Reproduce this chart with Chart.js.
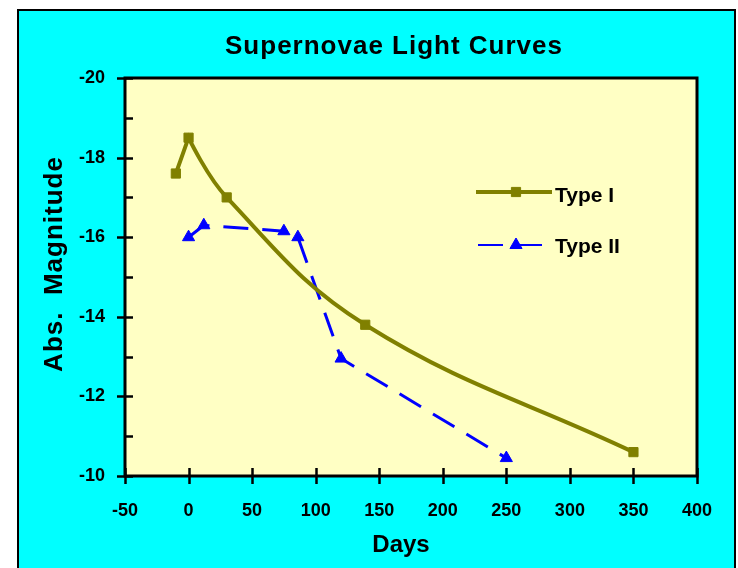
<!DOCTYPE html>
<html>
<head>
<meta charset="utf-8">
<script src="https://cdn.jsdelivr.net/npm/chart.js@4.4.1/dist/chart.umd.min.js"></script>
<style>
  html, body { margin: 0; padding: 0; background: #ffffff; }
  #wrap { width: 738px; height: 568px; }
</style>
</head>
<body>
<div id="wrap"><canvas id="chart" width="738" height="568"></canvas></div>
<script>
// Data
const typeIDays = [-10, 0, 30, 139, 350];
const typeIMag = [-17.6, -18.5, -17.0, -13.8, -10.6];
const typeIIDays = [0, 12, 75, 86, 120, 250];
const typeIIMag = [-16.0, -16.3, -16.15, -16.0, -12.95, -10.45];
const xTicks = [-50, 0, 50, 100, 150, 200, 250, 300, 350, 400];
const yTicks = [-20, -18, -16, -14, -12, -10];

const seriesNames = ['Type I', 'Type II'];
const chartTitle = 'Supernovae Light Curves';
const xTitle = 'Days';
const yTitle = 'Abs.  Magnitude';

const OLIVE = '#808000';
const BLUE = '#0000ff';

function toPoints(xs, ys) {
    return xs.map((x, i) => ({ x: x, y: ys[i] }));
}

// The smoothed Type I curve has a sharp corner at its peak
const peakIndex = typeIMag.indexOf(Math.min(...typeIMag));
const cuspPlugin = {
    id: 'cusp',
    beforeDatasetDraw(chart, args) {
        if (args.index !== 0) return;
        const line = args.meta.dataset;
        line.updateControlPoints(chart.chartArea);
        const pt = args.meta.data[peakIndex];
        pt.cp1x = pt.x; pt.cp1y = pt.y;
        pt.cp2x = pt.x; pt.cp2y = pt.y;
    }
};

// Background, frame, title, axis titles, tick marks and legend
const decorPlugin = {
    id: 'decor',
    beforeDraw(chart) {
        const ctx = chart.ctx;
        const a = chart.chartArea;
        ctx.save();
        ctx.fillStyle = '#ffffff';
        ctx.fillRect(0, 0, chart.width, chart.height);
        ctx.fillStyle = '#00ffff';
        ctx.fillRect(18, 10, 717, 570);
        ctx.strokeStyle = '#000000';
        ctx.lineWidth = 2;
        ctx.strokeRect(18, 10, 717, 570);
        ctx.fillStyle = '#ffffc4';
        ctx.fillRect(a.left, a.top, a.right - a.left, a.bottom - a.top);
        ctx.restore();
    },
    afterDraw(chart) {
        const ctx = chart.ctx;
        const a = chart.chartArea;
        const xs = chart.scales.x;
        const ys = chart.scales.y;
        ctx.save();

        // plot frame
        ctx.strokeStyle = '#000000';
        ctx.lineWidth = 3;
        ctx.strokeRect(a.left, a.top, a.right - a.left, a.bottom - a.top);

        // y tick marks: major ones cross the axis, minor ones point inside
        ctx.lineWidth = 2.5;
        for (let v = -20; v <= -10; v++) {
            const py = Math.round(ys.getPixelForValue(v)) + 0.5;
            const major = yTicks.includes(v);
            ctx.beginPath();
            ctx.moveTo(major ? a.left - 8 : a.left, py);
            ctx.lineTo(a.left + 8, py);
            ctx.stroke();
        }
        // x tick marks cross the axis
        xTicks.forEach(v => {
            const px = Math.round(xs.getPixelForValue(v)) + 0.5;
            ctx.beginPath();
            ctx.moveTo(px, a.bottom - 8);
            ctx.lineTo(px, a.bottom + 8);
            ctx.stroke();
        });

        // titles
        ctx.fillStyle = '#000000';
        ctx.textAlign = 'center';
        ctx.textBaseline = 'alphabetic';
        ctx.letterSpacing = '1px';
        ctx.font = 'bold 26px "Liberation Sans", Arial, sans-serif';
        ctx.fillText(chartTitle, 394, 54);

        ctx.letterSpacing = '0px';
        ctx.font = 'bold 24px "Liberation Sans", Arial, sans-serif';
        ctx.fillText(xTitle, 401, 552);

        ctx.save();
        ctx.translate(62, 264);
        ctx.rotate(-Math.PI / 2);
        ctx.letterSpacing = '1px';
        ctx.font = 'bold 26px "Liberation Sans", Arial, sans-serif';
        ctx.fillText(yTitle, 0, 0);
        ctx.restore();

        // legend
        ctx.letterSpacing = '0px';
        ctx.textAlign = 'left';
        ctx.font = 'bold 21px "Liberation Sans", Arial, sans-serif';
        const items = [
            { y: 192, x0: 476, x1: 552, ds: 0 },
            { y: 245, x0: 478, x1: 543, ds: 1 }
        ];
        items.forEach(it => {
            const d = chart.data.datasets[it.ds];
            ctx.save();
            ctx.strokeStyle = d.borderColor;
            ctx.lineWidth = it.ds === 0 ? 4 : 2;
            if (it.ds === 1) ctx.setLineDash([25, 14]);
            ctx.beginPath();
            ctx.moveTo(it.x0, it.y);
            ctx.lineTo(it.x1, it.y);
            ctx.stroke();
            ctx.fillStyle = d.pointBackgroundColor;
            ctx.strokeStyle = d.pointBorderColor;
            ctx.lineWidth = 1;
            ctx.setLineDash([]);
            Chart.helpers.drawPoint(ctx, {
                pointStyle: d.pointStyle,
                radius: d.pointRadius,
                rotation: 0,
                borderWidth: 1
            }, 516, it.y);
            ctx.restore();
            ctx.fillStyle = '#000000';
            ctx.fillText(seriesNames[it.ds], 555, it.ds === 0 ? 202 : 253);
        });

        ctx.restore();
    }
};

const config = {
    type: 'line',
    data: {
        datasets: [
            {
                label: seriesNames[0],
                data: toPoints(typeIDays, typeIMag),
                borderColor: OLIVE,
                backgroundColor: OLIVE,
                pointBackgroundColor: OLIVE,
                pointBorderColor: OLIVE,
                borderWidth: 4,
                pointStyle: 'rect',
                pointRadius: 6.5,
                pointBorderWidth: 1,
                tension: 0.4,
                fill: false
            },
            {
                label: seriesNames[1],
                data: toPoints(typeIIDays, typeIIMag),
                borderColor: BLUE,
                backgroundColor: BLUE,
                pointBackgroundColor: BLUE,
                pointBorderColor: BLUE,
                borderWidth: 3,
                borderDash: [25, 14],
                pointStyle: 'triangle',
                pointRadius: 7,
                pointBorderWidth: 1,
                tension: 0,
                fill: false
            }
        ]
    },
    plugins: [decorPlugin, cuspPlugin],
    options: {
        responsive: false,
        animation: false,
        layout: { padding: { top: 78, right: 41, left: 0, bottom: 0 } },
        plugins: {
            legend: { display: false },
            title: { display: false },
            tooltip: { enabled: false }
        },
        scales: {
            x: {
                type: 'linear',
                min: -50,
                max: 400,
                afterFit: s => { s.height = 92; },
                afterBuildTicks: s => { s.ticks = xTicks.map(v => ({ value: v })); },
                grid: { display: false, drawTicks: false },
                border: { display: false },
                ticks: {
                    color: '#000000',
                    padding: 24,
                    maxRotation: 0,
                    font: { family: '"Liberation Sans", Arial, sans-serif', size: 18, weight: 'bold' }
                }
            },
            y: {
                type: 'linear',
                reverse: true,
                min: -20,
                max: -10,
                afterFit: s => { s.width = 125; },
                afterBuildTicks: s => { s.ticks = yTicks.map(v => ({ value: v })); },
                grid: { display: false, drawTicks: false },
                border: { display: false },
                ticks: {
                    color: '#000000',
                    padding: 20,
                    font: { family: '"Liberation Sans", Arial, sans-serif', size: 18, weight: 'bold' }
                }
            }
        }
    }
};

new Chart(document.getElementById('chart'), config);
</script>
</body>
</html>
